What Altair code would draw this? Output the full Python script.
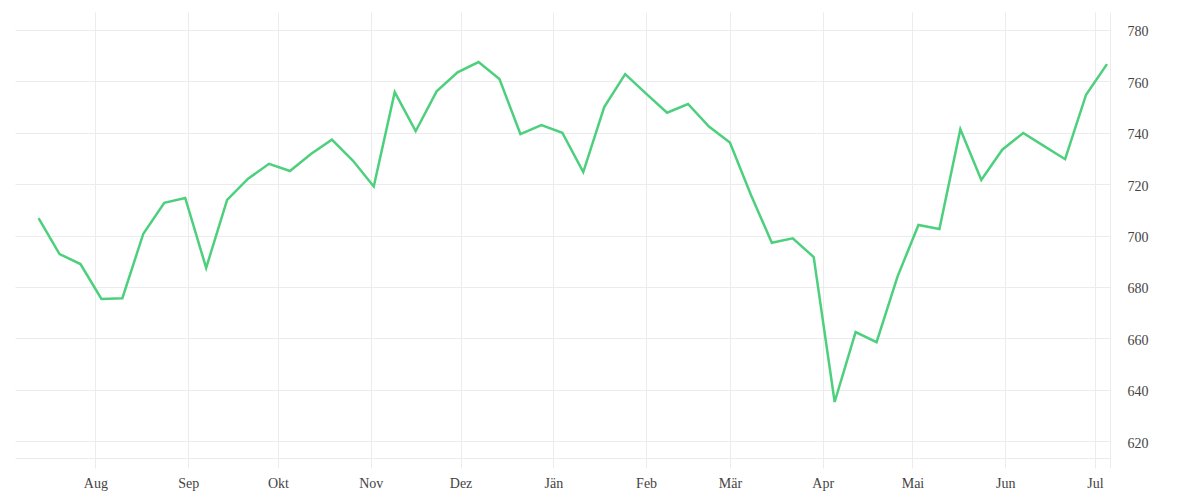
import altair as alt
import pandas as pd

# Weekly dates (Saturdays) and index values
dates = pd.date_range("2024-07-13", periods=52, freq="7D").strftime("%Y-%m-%d").tolist()
values = [
    706.8, 692.8, 688.9, 675.3, 675.6, 700.7, 712.7, 714.6, 687.4, 713.9,
    722.1, 727.9, 725.1, 731.7, 737.3, 729.2, 719.1, 755.8, 740.6, 756.1,
    763.5, 767.5, 760.9, 739.5, 743.0, 740.0, 724.7, 750.0, 762.8, 755.2,
    747.8, 751.2, 742.4, 736.2, 715.9, 697.2, 698.9, 691.6, 635.2, 662.4,
    658.5, 684.0, 704.1, 702.5, 741.4, 721.6, 733.4, 739.9, 734.8, 729.7,
    754.8, 766.7,
]

month_names = ["Jän", "Feb", "Mär", "Apr", "Mai", "Jun", "Jul", "Aug", "Sep", "Okt", "Nov", "Dez"]
tick_months = [(2024, 8), (2024, 9), (2024, 10), (2024, 11), (2024, 12), (2025, 1),
               (2025, 2), (2025, 3), (2025, 4), (2025, 5), (2025, 6), (2025, 7)]
y_ticks = [620, 640, 660, 680, 700, 720, 740, 760, 780]

df = pd.DataFrame({"date": dates, "value": values})

x_values = [alt.DateTime(year=y, month=m, date=1, utc=True) for y, m in tick_months]
x_values.append(alt.DateTime(year=2025, month=7, date=6, utc=True))

names_js = "[" + ",".join("'" + n + "'" for n in month_names) + "]"
label_expr = f"utcdate(datum.value) == 1 ? {names_js}[utcmonth(datum.value)] : ''"

grid_color = "#ececec"
font = "Liberation Serif"

chart = alt.Chart(df).mark_line(color="#4dd07d", strokeWidth=2.5).encode(
    x=alt.X(
        "date:T",
        scale=alt.Scale(
            type="utc",
            domain=[
                alt.DateTime(year=2024, month=7, date=5, hours=3, utc=True),
                alt.DateTime(year=2025, month=7, date=6, utc=True),
            ],
        ),
        axis=alt.Axis(
            title=None,
            values=x_values,
            labelExpr=label_expr,
            grid=True,
            gridColor=grid_color,
            domain=True,
            domainColor=grid_color,
            ticks=True,
            tickColor=grid_color,
            tickSize=10,
            labelPadding=8,
            labelFont=font,
            labelFontSize=14,
            labelColor="#444444",
        ),
    ),
    y=alt.Y(
        "value:Q",
        scale=alt.Scale(domain=[613.4, 787.0], nice=False, zero=False),
        axis=alt.Axis(
            title=None,
            orient="right",
            values=y_ticks,
            grid=True,
            gridColor=grid_color,
            domain=False,
            ticks=False,
            tickSize=0,
            labelPadding=17,
            labelOffset=2,
            labelFont=font,
            labelFontSize=14,
            labelColor="#444444",
        ),
    ),
).properties(
    width=1095,
    height=446,
    padding={"left": 7, "top": 4, "right": 5, "bottom": 5},
).configure_view(stroke=None)

chart.save("out.html", embed_options={"renderer": "svg", "actions": False})
